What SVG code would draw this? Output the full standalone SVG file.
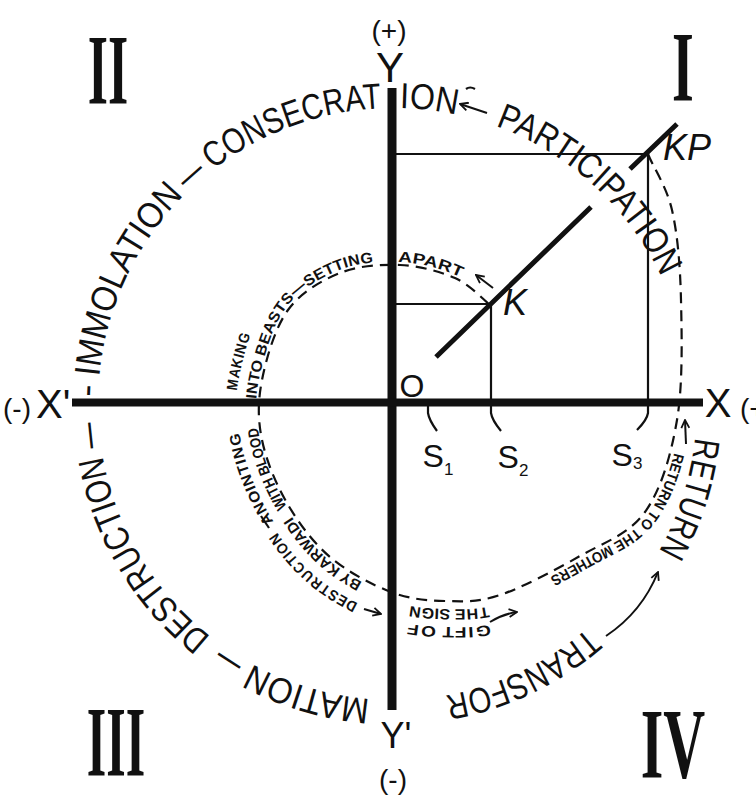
<svg xmlns="http://www.w3.org/2000/svg" width="756" height="800" viewBox="0 0 756 800">
<style>
.ring{font-family:"Liberation Sans",Arial,sans-serif;font-size:36px;fill:#111}
.lab{font-family:"Liberation Sans",Arial,sans-serif;font-size:15px;font-weight:bold;fill:#111}
.axl{font-family:"Liberation Sans",Arial,sans-serif;fill:#111}
.it{font-style:italic}
.rom{font-family:"Liberation Serif","Times New Roman",serif;font-weight:bold;font-size:100px;fill:#111}
.thin{stroke:#111;fill:none;stroke-width:2.2}
.dash{stroke:#111;fill:none;stroke-width:2.2;stroke-dasharray:11 7}
.arr{stroke:#111;fill:none;stroke-width:2;marker-end:url(#ah)}
</style>
<defs>
<path id="ring" d="M394,700 A296,296 0 1 1 394,108 A296,296 0 1 1 394,700"/>
<path id="spiral" d="M648,154 C652,165 666.5,186 672,210 C677.5,234 680.2,265 681,300 C681.8,335 683,384.7 677,420 C671,455.3 661.2,489.3 645,512 C628.8,534.7 604.2,542.2 580,556 C555.8,569.8 522.5,587.5 500,595 C477.5,602.5 463.2,601.5 445,601 C426.8,600.5 410.2,599.3 391,592 C371.8,584.7 347.3,571.8 330,557 C312.7,542.2 298.3,522.5 287,503 C275.7,483.5 266.2,460.5 262,440 C257.8,419.5 257.7,401.7 262,380 C266.3,358.3 275,327.8 288,310 C301,292.2 321.3,280.5 340,273 C358.7,265.5 380.8,264.2 400,265 C419.2,265.8 440.2,271.5 455,278 C469.8,284.5 483.3,299.7 489,304"/>
<marker id="ah" viewBox="0 0 10 10" refX="9" refY="5" markerWidth="10" markerHeight="10" orient="auto" markerUnits="userSpaceOnUse"><path d="M1,1 L9,5 L1,9" fill="none" stroke="#111" stroke-width="1.8"/></marker>
</defs>
<rect width="756" height="800" fill="#fff"/>

<g id="connectors">
<use href="#spiral" class="dash"/>
<path d="M396,154 H648 V402" class="thin"/>
<path d="M396,304 H491 V402" class="thin" stroke-width="3"/>
<path d="M436,357 L591,207 M630,169 L677,124" stroke="#111" stroke-width="5" fill="none"/>
<path d="M428,406 V413 Q429,420 437,431 M491,406 V413 Q492,420 501,431 M648,406 V413 Q647,420 637,430" class="thin"/>
<path d="M487,113 L460,104" class="arr"/>
<path d="M466,89 q4,-3 9,0" class="thin" stroke-width="1.5"/>
<path d="M493,288 L476,275" class="arr"/>
<path d="M686,444 L685,420" class="arr"/>
<path d="M606,636 Q642,612 658,572" class="arr"/>
<path d="M490,622 Q503,614 517,612" class="arr"/>
<path d="M364,609 L381,614" class="arr"/>
<path d="M261,516 L269,528" class="thin"/>
</g>

<g id="axes">
<path d="M392,88 V710" stroke="#111" stroke-width="9"/>
<path d="M72,402.5 H703" stroke="#111" stroke-width="8"/>
<text class="axl" x="389" y="40" font-size="28" text-anchor="middle">(+)</text>
<text class="axl" x="390" y="82" font-size="42" text-anchor="middle">Y</text>
<text class="axl" x="396" y="748" font-size="36" text-anchor="middle">Y'</text>
<text class="axl" x="393" y="789" font-size="28" text-anchor="middle">(-)</text>
<text class="axl" x="718" y="417" font-size="40" text-anchor="middle">X</text>
<text class="axl" x="740" y="418" font-size="28">(+)</text>
<text class="axl" x="3" y="418" font-size="28">(-)</text>
<text class="axl" x="36" y="418" font-size="40">X'</text>
</g>

<g id="points">
<text class="axl" x="412" y="397" font-size="32" text-anchor="middle">O</text>
<text class="axl it" x="515" y="315" font-size="36" text-anchor="middle">K</text>
<text class="axl it" x="687" y="160" font-size="36" text-anchor="middle">KP</text>
<text class="axl" x="438" y="467" font-size="32" text-anchor="middle">S<tspan font-size="17" dy="8">1</tspan></text>
<text class="axl" x="513" y="468" font-size="32" text-anchor="middle">S<tspan font-size="17" dy="8">2</tspan></text>
<text class="axl" x="627" y="466" font-size="32" text-anchor="middle">S<tspan font-size="17" dy="3">3</tspan></text>
</g>

<g id="quadrants">
<text class="rom" transform="translate(108,103) scale(0.52,1)" text-anchor="middle">II</text>
<text class="rom" transform="translate(683,100) scale(0.56,1)" text-anchor="middle">I</text>
<text class="rom" transform="translate(116,775) scale(0.5,1)" text-anchor="middle">III</text>
<text class="rom" transform="translate(673,777) scale(0.58,1)" text-anchor="middle">IV</text>
</g>

<g id="outer-ring">
<text class="ring" text-anchor="middle"><textPath href="#ring" startOffset="86" textLength="124" lengthAdjust="spacingAndGlyphs">MATION</textPath></text>
<text class="ring" text-anchor="middle"><textPath href="#ring" startOffset="169" textLength="26" lengthAdjust="spacingAndGlyphs">—</textPath></text>
<text class="ring" text-anchor="middle"><textPath href="#ring" startOffset="305" textLength="215" lengthAdjust="spacingAndGlyphs">DESTRUCTION</textPath></text>
<text class="ring" text-anchor="middle"><textPath href="#ring" startOffset="434" textLength="26" lengthAdjust="spacingAndGlyphs">—</textPath></text>
<text class="ring" text-anchor="middle"><textPath href="#ring" startOffset="478">-</textPath></text>
<text class="ring" text-anchor="middle"><textPath href="#ring" startOffset="594" textLength="204" lengthAdjust="spacingAndGlyphs">IMMOLATION</textPath></text>
<text class="ring" text-anchor="middle"><textPath href="#ring" startOffset="715" textLength="26" lengthAdjust="spacingAndGlyphs">—</textPath></text>
<text class="ring" text-anchor="middle"><textPath href="#ring" startOffset="826" textLength="182" lengthAdjust="spacingAndGlyphs">CONSECRAT</textPath></text>
<text class="ring" text-anchor="middle"><textPath href="#ring" startOffset="964" textLength="57" lengthAdjust="spacingAndGlyphs">ION</textPath></text>
<text class="ring" text-anchor="middle"><textPath href="#ring" startOffset="1148" textLength="230" lengthAdjust="spacingAndGlyphs">PARTICIPATION</textPath></text>
<text class="ring" text-anchor="middle" dy="-7"><textPath href="#ring" startOffset="1486" textLength="118" lengthAdjust="spacingAndGlyphs">RETURN</textPath></text>
<text class="ring" text-anchor="middle"><textPath href="#ring" startOffset="1728" textLength="160" lengthAdjust="spacingAndGlyphs">TRANSFOR</textPath></text>
</g>

<g id="spiral-labels">
<text class="lab" text-anchor="middle" dy="-4"><textPath href="#spiral" startOffset="395" textLength="182" lengthAdjust="spacingAndGlyphs">RETURN TO THE MOTHERS</textPath></text>
<text class="lab" text-anchor="middle" dy="-8"><textPath href="#spiral" startOffset="590" textLength="76" lengthAdjust="spacingAndGlyphs">THE SIGN</textPath></text>
<text class="lab" text-anchor="middle" dy="-26"><textPath href="#spiral" startOffset="590" textLength="75" lengthAdjust="spacingAndGlyphs">GIFT OF</textPath></text>
<text class="lab" text-anchor="middle" dy="-3"><textPath href="#spiral" startOffset="727" textLength="96" lengthAdjust="spacingAndGlyphs">BY KARWADI</textPath></text>
<text class="lab" text-anchor="middle" dy="-24"><textPath href="#spiral" startOffset="722" textLength="98" lengthAdjust="spacingAndGlyphs">DESTRUCTION</textPath></text>
<text class="lab" text-anchor="middle" dy="-2"><textPath href="#spiral" startOffset="828" textLength="84" lengthAdjust="spacingAndGlyphs">WITH BLOOD</textPath></text>
<text class="lab" text-anchor="middle" dy="-21"><textPath href="#spiral" startOffset="824" textLength="88" lengthAdjust="spacingAndGlyphs">ANOINTING</textPath></text>
<text class="lab" text-anchor="middle" dy="-3"><textPath href="#spiral" startOffset="995" textLength="194" lengthAdjust="spacingAndGlyphs">INTO BEASTS—SETTING</textPath></text>
<text class="lab" text-anchor="middle" dy="-3"><textPath href="#spiral" startOffset="1148" textLength="64" lengthAdjust="spacingAndGlyphs">APART</textPath></text>
<text class="lab" text-anchor="middle" dy="-23"><textPath href="#spiral" startOffset="930" textLength="54" lengthAdjust="spacingAndGlyphs">MAKING</textPath></text>
</g>
</svg>
